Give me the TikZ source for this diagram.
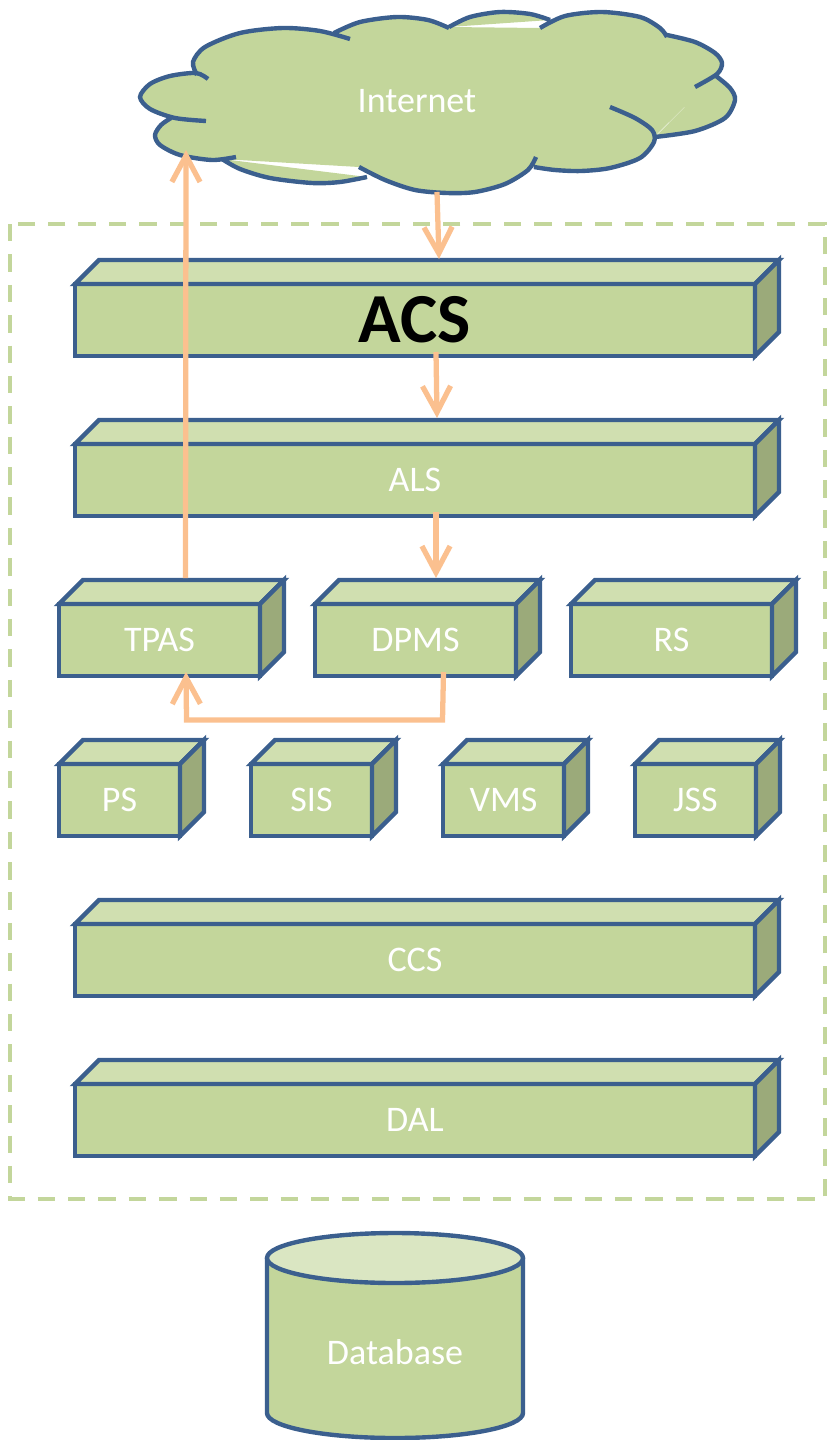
\documentclass[tikz,border=0pt]{standalone}
\usepackage{fontspec}
\setmainfont{Carlito}
\usetikzlibrary{arrows.meta}

\definecolor{boxline}{HTML}{3B5F8E}
\definecolor{boxfill}{HTML}{C3D69B}
\definecolor{boxlight}{HTML}{D0DFB0}
\definecolor{boxdark}{HTML}{9BAA7A}
\definecolor{dblight}{HTML}{DAE6C2}
\definecolor{flowline}{HTML}{FBC08F}

\tikzset{
 edge/.style={draw=boxline,line width=2.5pt},
 boxfront/.style={edge,fill=boxfill,text=white,font=\fontsize{20.5}{24}\selectfont,minimum height=1.44cm,inner sep=0pt,outer sep=0pt},
 label/.style={text=white,font=\fontsize{20.5}{24}\selectfont,inner sep=0pt},
 flow/.style={draw=flowline,line width=3pt,-{Rectangle[length=13pt,width=0pt,line width=0pt,sep=-13pt] Straight Barb[length=15pt,width=16pt,line width=3pt]}}
}

% the lobes of the cloud, each one with its tail
\newcommand{\cloudlobes}{
 plot[smooth] coordinates {(197,75) (193,62) (205,47) (240,33) (283,28) (320,31) (350,39)}
 plot[smooth] coordinates {(334,33) (360,22) (397,17) (428,20) (449,28)}
 plot[smooth] coordinates {(449,27) (470,17) (500,12) (530,14) (550,20)}
 plot[smooth] coordinates {(540,28) (565,16) (602,12) (640,17) (660,28) (667,37)}
 plot[smooth] coordinates {(667,35) (695,42) (715,53) (722,63) (717,74) (695,87)}
 plot[smooth] coordinates {(716,76) (730,88) (735,100) (725,118) (695,131) (655,137)}
 plot[smooth] coordinates {(610,107) (635,118) (652,130) (654,142) (640,158) (610,168) (581,171) (555,170) (534,167)}
 plot[smooth] coordinates {(536,157) (528,170) (505,184) (475,192) (447,193) (415,190) (385,180) (359,167)}
 plot[smooth] coordinates {(367,177) (340,182) (312,183) (270,178) (240,169) (222,159)}
 plot[smooth] coordinates {(236,157) (212,160) (180,155) (160,145) (155,135) (161,125) (171,118)}
 plot[smooth] coordinates {(206,121) (175,118) (150,109) (140,97) (150,84) (170,76) (196,73) (208,79)}
}

\begin{document}
\begin{tikzpicture}[x=0.02cm,y=-0.02cm]
\useasboundingbox (0,0) rectangle (827,1440);

\draw[boxfill,line width=2.3pt,dash pattern=on 17.5*0.567pt off 13*0.567pt] (10,224) rectangle (825,1199);

% this draws the cloud
\fill[boxfill] \cloudlobes (197,75) -- (334,33) -- (449,27) -- (540,28) -- (667,35) -- (716,76) -- (654,137) -- (534,167) -- (359,167) -- (222,159) -- (171,118) -- cycle;
\draw[edge] \cloudlobes;
\node[label] (internet) at (417,101) {Internet};

% this draws all the boxes, front face as a node
\foreach \name/\x/\y/\w/\txt in {acs/415/320/680/{\fontsize{40}{44}\selectfont\bfseries\color{black}ACS},als/415/480/680/ALS,
 tpas/159.5/640/201/TPAS,dpms/415.5/640/201/DPMS,rs/671.5/640/201/RS,
 ps/119.5/800/121/PS,sis/311.5/800/121/SIS,vms/503.5/800/121/VMS,jss/695.5/800/121/JSS,
 ccs/415/960/680/CCS,dal/415/1120/680/DAL} {
\node[boxfront,minimum width=\w*0.02cm] (\name) at (\x,\y) {\txt};
\draw[edge,fill=boxlight] (\name.north west) -- ++(24,-24) -- ++(\w,0) -- (\name.north east) -- cycle;
\draw[edge,fill=boxdark] (\name.north east) -- ++(24,-24) -- ++(0,72) -- (\name.south east) -- cycle;
\coordinate (\name-back) at ([shift={(24,-24)}]\name.north);}

% this draws the database
\draw[edge,fill=boxfill] (267,1258) -- (267,1413) arc[start angle=180,end angle=0,x radius=128,y radius=25] -- (523,1258);
\draw[edge,fill=dblight] (395,1258) ellipse[x radius=128,y radius=25];
\node[label] (database) at (395,1352) {Database};

\coordinate (cloudbottom) at (437,192);
\coordinate (cloudleft) at (186,150);

\draw[flow] (cloudbottom) -- ([shift={(0,-1)}]acs-back);
\draw[flow] ([shift={(21,-4)}]acs.south) -- ([shift={(-2,-2)}]als-back);
\draw[flow] ([shift={(21,-4)}]als.south) -- ([shift={(-3.5,-2)}]dpms-back);
\draw[flow] ([shift={(2,-2)}]tpas-back) -- (cloudleft);
\draw[flow] ([shift={(28,-4)}]dpms.south) -- ++(-1,48) -- ++(-256,0) -- ([shift={(26.5,-4)}]tpas.south);

\end{tikzpicture}
\end{document}
